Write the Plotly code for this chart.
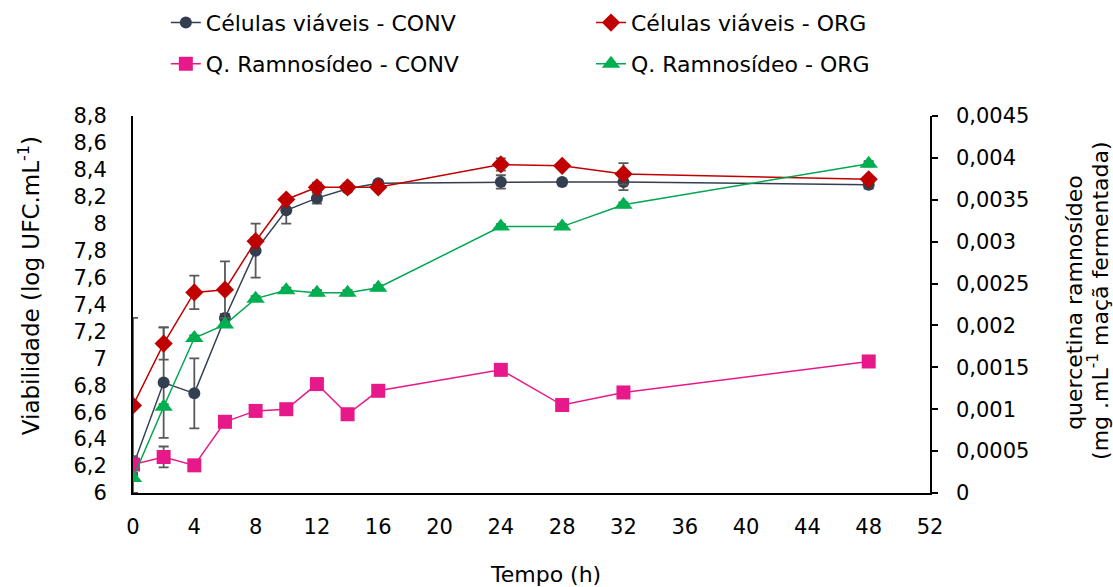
import plotly.graph_objects as go

# Sampling times (h)
tempo = [0, 2, 4, 6, 8, 10, 12, 14, 16, 24, 28, 32, 48]

# Viable cells (log UFC/mL) with standard deviations
cel_conv = [6.20, 6.82, 6.74, 7.30, 7.80, 8.10, 8.19, 8.26, 8.30, 8.31, 8.31, 8.31, 8.29]
cel_conv_dp = [0.06, 0.41, 0.26, 0.03, 0.20, 0.10, 0.04, 0.02, 0.02, 0.05, 0.02, 0.06, 0.03]
cel_org = [6.65, 7.11, 7.49, 7.51, 7.87, 8.18, 8.27, 8.27, 8.27, 8.44, 8.43, 8.37, 8.33]
cel_org_dp = [0.65, 0.12, 0.125, 0.21, 0.03, 0.02, 0.035, 0.03, 0.02, 0.045, 0.02, 0.08, 0.02]

# Quercetin rhamnoside (mg/mL of fermented apple)
q_conv = [0.00034, 0.00043, 0.00033, 0.00085, 0.00098, 0.00100, 0.00130, 0.00094, 0.00122,
          0.00147, 0.00105, 0.00120, 0.00157]
q_conv_dp = [0.0001, 0.000125, 0, 0, 0, 0, 0, 0, 0, 0, 0, 0, 0]
q_org = [0.00018, 0.00103, 0.00185, 0.00201, 0.00232, 0.00242, 0.00239, 0.00239, 0.00245,
         0.00318, 0.00318, 0.00344, 0.00393]
q_org_dp = [0.00003] * 13

# Tick values / labels (decimal comma)
y1_ticks = [6.0, 6.2, 6.4, 6.6, 6.8, 7.0, 7.2, 7.4, 7.6, 7.8, 8.0, 8.2, 8.4, 8.6, 8.8]
y1_labels = ["6", "6,2", "6,4", "6,6", "6,8", "7", "7,2", "7,4", "7,6", "7,8", "8",
             "8,2", "8,4", "8,6", "8,8"]
y2_ticks = [0, 0.0005, 0.001, 0.0015, 0.002, 0.0025, 0.003, 0.0035, 0.004, 0.0045]
y2_labels = ["0", "0,0005", "0,001", "0,0015", "0,002", "0,0025", "0,003", "0,0035",
             "0,004", "0,0045"]

FONT = "DejaVu Sans"
ERR = "#595959"

def err(vals):
    return dict(type="data", array=vals, visible=True, color=ERR, thickness=1.8, width=5)

fig = go.Figure()
fig.add_trace(go.Scatter(
    x=tempo, y=cel_conv, name="Células viáveis - CONV", mode="lines+markers",
    line=dict(color="#333F50", width=1.5),
    marker=dict(symbol="circle", size=12, color="#333F50"),
    error_y=err(cel_conv_dp), yaxis="y", legend="legend"))
fig.add_trace(go.Scatter(
    x=tempo, y=cel_org, name="Células viáveis - ORG", mode="lines+markers",
    line=dict(color="#C00000", width=1.5),
    marker=dict(symbol="diamond", size=14, color="#C00000"),
    error_y=err(cel_org_dp), yaxis="y", legend="legend2"))
fig.add_trace(go.Scatter(
    x=tempo, y=q_conv, name="Q. Ramnosídeo - CONV", mode="lines+markers",
    line=dict(color="#E7198A", width=1.5),
    marker=dict(symbol="square", size=14, color="#E7198A"),
    error_y=err(q_conv_dp), yaxis="y2", legend="legend3"))
fig.add_trace(go.Scatter(
    x=tempo, y=q_org, name="Q. Ramnosídeo - ORG", mode="lines+markers",
    line=dict(color="#00A651", width=1.5),
    marker=dict(symbol="triangle-up", size=16, color="#00B050"),
    error_y=err(q_org_dp), yaxis="y2", legend="legend4"))

def legend_at(x, y):
    return dict(
        orientation="h", xref="container", yref="container",
        x=x, y=y, xanchor="left", yanchor="top",
        font=dict(family=FONT, size=22), bgcolor="rgba(0,0,0,0)",
    )

col1, col2 = 0.149, 0.531
row1, row2 = 0.997, 0.927

fig.update_layout(
    width=1113, height=587,
    margin=dict(l=133, r=183, t=116, b=94, autoexpand=False),
    paper_bgcolor="white", plot_bgcolor="white",
    font=dict(family=FONT, size=21, color="black"),
    showlegend=True,
    legend=legend_at(col1, row1),
    legend2=legend_at(col2, row1),
    legend3=legend_at(col1, row2),
    legend4=legend_at(col2, row2),
    xaxis=dict(
        range=[0, 52], tickmode="array", tickvals=list(range(0, 53, 4)),
        showgrid=False, zeroline=False, showline=True, linecolor="black", linewidth=2,
        ticks="", ticklabelstandoff=14, tickfont=dict(size=21),
    ),
    yaxis=dict(
        range=[6, 8.8], tickmode="array", tickvals=y1_ticks, ticktext=y1_labels,
        showgrid=False, zeroline=False, showline=True, linecolor="black", linewidth=2,
        ticks="", ticklabelstandoff=20, tickfont=dict(size=21),
    ),
    yaxis2=dict(
        range=[0, 0.0045], overlaying="y", side="right", anchor="x",
        tickmode="array", tickvals=y2_ticks, ticktext=y2_labels,
        showgrid=False, zeroline=False, showline=True, linecolor="black", linewidth=1.5,
        ticks="outside", ticklen=6, tickwidth=1.5, tickcolor="black",
        ticklabelstandoff=14, tickfont=dict(size=21),
    ),
    annotations=[
        dict(text="Viabilidade (log UFC.mL<sup>-1</sup>)", xref="paper", yref="paper",
             x=-0.131, y=0.55, textangle=-90, showarrow=False,
             font=dict(family=FONT, size=23), xanchor="center", yanchor="middle"),
        dict(text="quercetina ramnosídeo",
             xref="paper", yref="paper", x=1.181, y=0.505, textangle=-90, showarrow=False,
             font=dict(family=FONT, size=22), xanchor="center", yanchor="middle"),
        dict(text="(mg .mL<sup>-1</sup> maçã fermentada)",
             xref="paper", yref="paper", x=1.211, y=0.51, textangle=-90, showarrow=False,
             font=dict(family=FONT, size=22), xanchor="center", yanchor="middle"),
        dict(text="Tempo (h)", xref="paper", yref="paper", x=0.518, y=-0.2175,
             showarrow=False, font=dict(family=FONT, size=22),
             xanchor="center", yanchor="middle"),
    ],
)

fig.write_html("out.html")
